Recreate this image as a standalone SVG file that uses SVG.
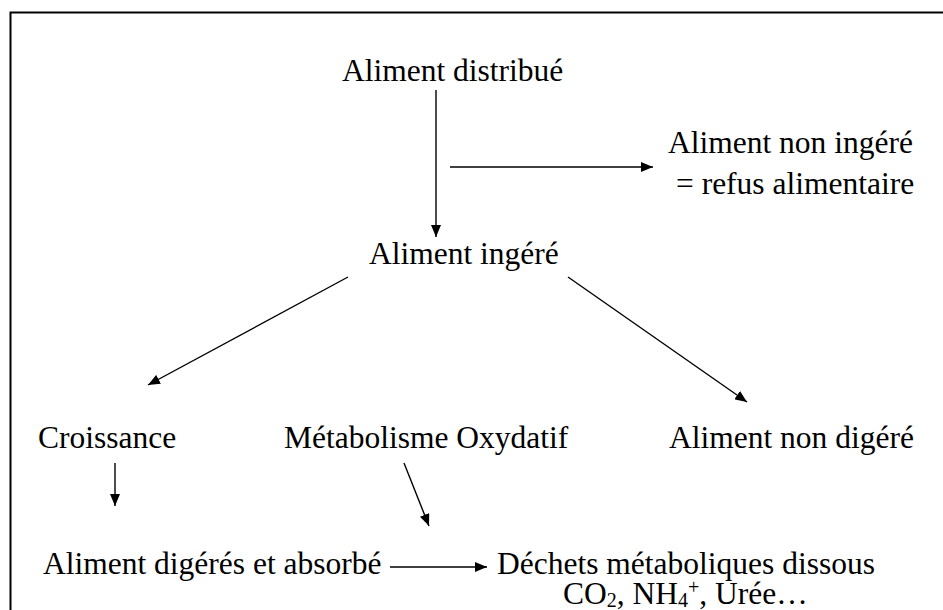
<svg xmlns="http://www.w3.org/2000/svg" width="943" height="610" viewBox="0 0 943 610">
  <style>
    .lbl { font-family: "Liberation Serif", "Times New Roman", serif; font-size: 31.5px; fill: #000; }
    .sub { font-size: 20px; }
    .edge { stroke: #000; stroke-width: 1.4; fill: none; marker-end: url(#arrow); }
    .frame { stroke: #000; stroke-width: 2; fill: none; }
  </style>
  <defs>
    <marker id="arrow" markerUnits="userSpaceOnUse" markerWidth="12" markerHeight="10" refX="12" refY="5" orient="auto">
      <path d="M0,0 L12,5 L0,10 z" fill="#000"/>
    </marker>
  </defs>

  <rect width="943" height="610" fill="#fff"/>
  <!-- open frame: top and left edges only -->
  <path class="frame" d="M10.5,610 V12.5 H943"/>

  <g id="connectors">
    <path class="edge" d="M436,90 V237"/>
    <path class="edge" d="M450,167 H653"/>
    <path class="edge" d="M348,277 L148,385"/>
    <path class="edge" d="M568,277 L747,402"/>
    <path class="edge" d="M115,463 V506"/>
    <path class="edge" d="M404,463 L429,526"/>
    <path class="edge" d="M390,567 H487"/>
  </g>

  <g id="aliment-distribue"><text class="lbl" x="342" y="81">Aliment distribué</text></g>
  <g id="aliment-non-ingere">
    <text class="lbl" x="668" y="153">Aliment non ingéré</text>
    <text class="lbl" x="676" y="194">= refus alimentaire</text>
  </g>
  <g id="aliment-ingere"><text class="lbl" x="369" y="264">Aliment ingéré</text></g>
  <g id="croissance"><text class="lbl" x="38" y="448">Croissance</text></g>
  <g id="metabolisme"><text class="lbl" x="284" y="448">Métabolisme Oxydatif</text></g>
  <g id="aliment-non-digere"><text class="lbl" x="669" y="448">Aliment non digéré</text></g>
  <g id="aliment-digere"><text class="lbl" x="43" y="574">Aliment digérés et absorbé</text></g>
  <g id="dechets">
    <text class="lbl" x="497" y="574">Déchets métaboliques dissous</text>
    <text class="lbl" x="563" y="604">CO<tspan class="sub" dy="3">2</tspan><tspan dy="-3">, NH</tspan><tspan class="sub" dy="3">4</tspan><tspan class="sub" dy="-13">+</tspan><tspan dy="10">, Urée…</tspan></text>
  </g>
</svg>
